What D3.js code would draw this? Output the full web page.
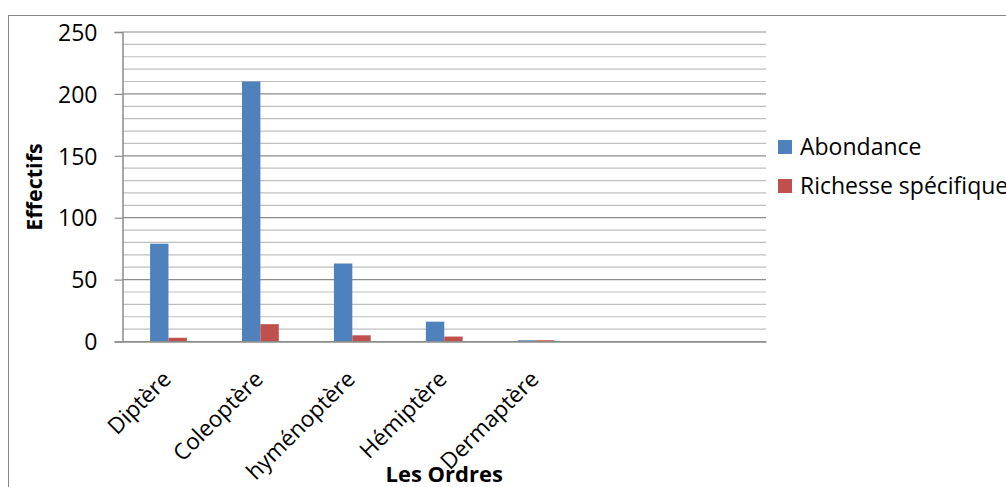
<!DOCTYPE html>
<html><head><meta charset="utf-8">
<script src="https://cdn.jsdelivr.net/npm/d3@7"></script>
<style>body{margin:0;background:#fff;}svg{display:block;}text{font-family:"Open Sans","Noto Sans",sans-serif;fill:#000;}</style>
</head><body><svg id="c" width="1006" height="487"></svg>
<script>
const categories = ["Diptère","Coleoptère","hyménoptère","Hémiptère","Dermaptère","",""];
const abondance = [79,210,63,16,1,null,null];
const richesse = [3,14,5,4,1,null,null];
const seriesNames = ["Abondance","Richesse spécifique"];
const seriesColors = ["#4F81BD","#C0504D"];
const yMajorTicks = [0,50,100,150,200,250];
const yMinorTicks = d3.range(0,251,10);

const svg = d3.select("#c");
const W=1006,H=487;
svg.append("rect").attr("x",8.5).attr("y",15.5).attr("width",W+10).attr("height",H+10)
  .attr("fill","#fff").attr("stroke","#868686").attr("stroke-width",1);

const x0=122.5,x1=766,yTop=32,yBot=341.5;
const x = d3.scaleBand().domain(d3.range(categories.length)).range([x0,x1]).paddingInner(0).paddingOuter(0);
const y = d3.scaleLinear().domain([0,250]).range([yBot,yTop]);
const bw = x.bandwidth()/5;

// minor gridlines
svg.append("g").selectAll("line").data(yMinorTicks.filter(v=>v%50!==0)).join("line")
  .attr("x1",x0).attr("x2",x1).attr("y1",d=>y(d)).attr("y2",d=>y(d))
  .attr("stroke","#BFBFBF").attr("stroke-width",1.2);
// major gridlines
svg.append("g").selectAll("line").data(yMajorTicks).join("line")
  .attr("x1",x0).attr("x2",x1).attr("y1",d=>y(d)).attr("y2",d=>y(d))
  .attr("stroke","#8C8C8C").attr("stroke-width",1.2);

// y axis
const yAxis = d3.axisLeft(y).tickValues(yMajorTicks).tickSize(8).tickPadding(17);
const gy = svg.append("g").attr("transform",`translate(${x0},0)`).call(yAxis);
gy.attr("font-size",null).attr("font-family",null);
gy.select(".domain").attr("stroke","#8C8C8C").attr("stroke-width",1.5);
gy.selectAll(".tick line").attr("stroke","#8C8C8C").attr("stroke-width",1.2);
gy.selectAll(".tick text").style("font-size","23px").attr("fill","#000").attr("dy","0.36em");

// bars
const series=[abondance,richesse];
series.forEach((vals,si)=>{
  svg.append("g").selectAll("rect").data(vals.map((v,i)=>({v,i})).filter(d=>d.v!=null)).join("rect")
    .attr("x",d=>x(d.i)+x.bandwidth()/2-bw+si*bw)
    .attr("width",bw)
    .attr("y",d=>y(d.v))
    .attr("height",d=>y(0)-y(d.v))
    .attr("fill",seriesColors[si]);
});

// x axis
const xAxis = d3.axisBottom(x).tickFormat(i=>categories[i]).tickSize(0).tickPadding(0);
const gx = svg.append("g").attr("transform",`translate(0,${yBot})`).call(xAxis);
gx.attr("font-size",null).attr("font-family",null);
gx.select(".domain").attr("stroke","#8C8C8C").attr("stroke-width",1.5);
gx.selectAll(".tick text").style("font-size","22.5px").attr("fill","#000")
  .attr("text-anchor","end").attr("dy",null).attr("y",0)
  .attr("transform","translate(4,39) rotate(-45)");

// axis titles
svg.append("text").attr("transform","translate(42,187) rotate(-90)").attr("text-anchor","middle")
  .style("font-size","21.5px").style("font-weight","bold").text("Effectifs");
svg.append("text").attr("x",(x0+x1)/2).attr("y",482).attr("text-anchor","middle")
  .style("font-size","22px").style("font-weight","bold").text("Les Ordres");

// legend
const lg = svg.append("g");
seriesNames.forEach((n,i)=>{
  lg.append("rect").attr("x",778).attr("y",140+i*39).attr("width",14).attr("height",14).attr("fill",seriesColors[i]);
  lg.append("text").attr("x",800).attr("y",155+i*39).style("font-size","23px").text(n);
});
</script></body></html>
